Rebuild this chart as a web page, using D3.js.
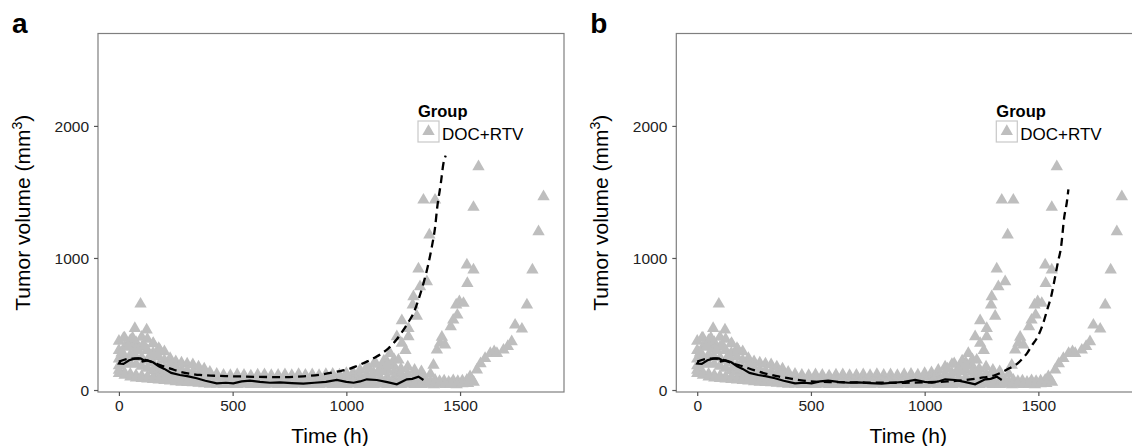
<!DOCTYPE html>
<html>
<head>
<meta charset="UTF-8">
<title>Tumor volume</title>
<script src="https://cdn.jsdelivr.net/npm/d3@7/dist/d3.min.js"></script>
<style>
    body { margin: 0; background: #fff; }
    svg { display: block; font-family: "Liberation Sans", Arial, sans-serif; }
</style>
</head>
<body>
<svg id="chart" width="1132" height="446"></svg>
<script>
    // observed tumour volumes (mm3), same data in both panels
    var bandTimes = [0, 25, 50, 75, 100, 125, 150, 175, 200, 225, 250, 275, 300, 325, 350, 375, 400, 430, 460, 490,
        520, 550, 580, 610, 640, 670, 700, 730, 760, 790, 820, 850, 880, 910, 940, 970, 1000, 1030, 1060, 1090,
        1120, 1150, 1180, 1210, 1240, 1270, 1300, 1330];
    var bandUpper = [370, 395, 375, 360, 400, 385, 350, 315, 290, 240, 215, 205, 198, 192, 175, 160, 135, 120, 112, 110,
        116, 112, 108, 114, 116, 110, 112, 116, 110, 118, 112, 116, 110, 118, 120, 114, 126, 132, 150, 175,
        195, 170, 210, 180, 160, 175, 150, 140];
    var bandUpperMid = [300, 325, 330, 310, 325, 300, 280, 250, 225, 195, 170, 155, 145, 135, 125, 115, 105, 98, 92, 95,
        96, 92, 95, 98, 92, 95, 98, 92, 95, 98, 94, 92, 96, 98, 92, 95, 98, 100, 108, 118,
        128, 140, 150, 135, 125, 118, 112, 108];
    var bandMiddle = [235, 255, 265, 250, 245, 225, 205, 185, 165, 145, 130, 118, 108, 100, 92, 86, 80, 76, 73, 72,
        74, 76, 72, 74, 71, 73, 76, 72, 74, 71, 76, 73, 71, 74, 76, 72, 74, 76, 80, 84,
        88, 92, 96, 92, 86, 82, 84, 80];
    var bandLowerMid = [185, 195, 200, 195, 180, 165, 148, 135, 122, 108, 98, 92, 86, 82, 76, 71, 66, 63, 61, 61,
        63, 61, 63, 61, 59, 61, 63, 61, 59, 61, 63, 61, 59, 61, 63, 61, 59, 61, 63, 61,
        59, 61, 63, 61, 59, 61, 63, 61];
    var bandLower = [150, 130, 120, 110, 105, 100, 95, 90, 86, 82, 78, 75, 72, 70, 66, 60, 56, 52, 50, 50,
        48, 50, 52, 50, 48, 50, 52, 50, 48, 50, 52, 50, 48, 50, 52, 50, 48, 50, 52, 50,
        48, 50, 50, 48, 50, 52, 50, 48];
    var bandBottom = [125, 112, 100, 92, 88, 84, 80, 76, 72, 68, 64, 60, 58, 55, 52, 48, 45, 44, 42, 43,
        42, 44, 42, 43, 42, 44, 42, 43, 42, 44, 42, 43, 42, 44, 42, 43, 42, 44, 42, 43,
        42, 44, 42, 43, 42, 44, 42, 43];

    var earlyTimes = [20, 60, 70, 95, 122, 151, 180, 40, 110, 12, 85, 140];
    var earlyVols = [392, 395, 467, 651, 455, 354, 303, 330, 340, 280, 300, 260];

    var riseATimes = [1100, 1130, 1150, 1165, 1180, 1192, 1210, 1222, 1229, 1244, 1244, 1260, 1273, 1273, 1292, 1295,
        1310, 1317, 1324, 1339, 1354, 1365, 1390];
    var riseAVols = [160, 200, 150, 220, 190, 278, 230, 404, 227, 525, 354, 300, 467, 404, 644, 707,
        560, 917, 783, 1439, 820, 1174, 1439];

    var riseBTimes = [1370, 1383, 1398, 1412, 1420, 1434, 1459, 1470, 1483, 1488, 1497, 1515, 1530, 1532, 1559, 1559, 1581];
    var riseBVols = [120, 189, 303, 354, 400, 341, 480, 530, 644, 568, 669, 657, 947, 808, 909, 1384, 1692];

    var riseCTimes = [1544, 1574, 1590, 1610, 1633, 1650, 1662, 1691, 1710, 1727, 1742, 1772, 1794, 1818, 1845, 1867];
    var riseCVols = [101, 152, 200, 240, 278, 290, 278, 303, 330, 366, 492, 462, 644, 909, 1199, 1465];

    var tailTimes = [1350, 1370, 1390, 1410, 1430, 1450, 1470, 1490, 1510, 1530, 1550,
        1360, 1385, 1410, 1435, 1460, 1485, 1510, 1535, 1560];
    var tailVols = [70, 60, 75, 65, 70, 60, 72, 65, 70, 75, 85,
        45, 40, 48, 42, 45, 40, 48, 50, 60];

    // observed mean (solid)
    var meanTimes = [5, 0, 20, 45, 70, 95, 110, 100, 125, 150, 175, 200, 230, 268, 300, 342, 380, 430, 470, 503,
        540, 576, 620, 664, 708, 760, 811, 860, 910, 958, 1000, 1032, 1060, 1090, 1134, 1180, 1222, 1266, 1290, 1317, 1339];
    var meanVols = [215, 200, 198, 225, 238, 240, 225, 215, 225, 210, 180, 160, 130, 114, 105, 89, 70, 51, 55, 51,
        65, 71, 62, 55, 58, 52, 48, 55, 62, 76, 62, 55, 65, 81, 76, 60, 43, 81, 85, 101, 76];

    // model predictions (dashed)
    var predATimes = [0, 40, 85, 130, 180, 230, 268, 320, 356, 420, 503, 600, 708, 811, 900, 958, 1010, 1046, 1090, 1119,
        1150, 1185, 1220, 1251, 1275, 1295, 1320, 1339, 1360, 1376, 1390, 1400, 1415, 1427, 1437];
    var predAVols = [215, 235, 240, 220, 189, 160, 139, 122, 114, 108, 104, 100, 98, 104, 120, 139, 158, 182, 215, 240,
        270, 316, 380, 455, 520, 581, 700, 808, 950, 1086, 1230, 1389, 1560, 1717, 1775];

    var predBTimes = [0, 40, 80, 120, 160, 200, 250, 300, 350, 400, 450, 500, 600, 700, 800, 900, 1000, 1100, 1200, 1260,
        1305, 1340, 1372, 1409, 1431, 1453, 1468, 1497, 1520, 1541, 1556, 1571, 1585, 1600, 1614, 1625, 1632];
    var predBVols = [215, 235, 240, 225, 200, 180, 150, 125, 105, 90, 75, 65, 60, 58, 55, 55, 58, 65, 80, 95,
        110, 135, 164, 202, 240, 285, 328, 404, 500, 620, 707, 833, 960, 1086, 1313, 1420, 1520];

    var xTicks = [0, 500, 1000, 1500];
    var yTicks = [0, 1000, 2000];
    var groupName = "DOC+RTV";

    var pointColor = "#bebebe";
    var svg = d3.select("#chart");

    // gather all observed points
    var points = [];
    [bandUpper, bandUpperMid, bandMiddle, bandLowerMid, bandLower, bandBottom].forEach(function (vals) {
        vals.forEach(function (v, i) { points.push({t: bandTimes[i], v: v}); });
    });
    [[earlyTimes, earlyVols], [tailTimes, tailVols], [riseATimes, riseAVols],
        [riseBTimes, riseBVols], [riseCTimes, riseCVols]].forEach(function (p) {
        p[0].forEach(function (t, i) { points.push({t: t, v: p[1][i]}); });
    });

    var meanLine = meanTimes.map(function (t, i) { return {t: t, v: meanVols[i]}; });

    function drawPanel(left, label, predT, predV) {
        var width = 466, top = 33.5, bottom = 392;
        var x = d3.scaleLinear().domain([-92, 1957]).range([left, left + width]);
        var y = d3.scaleLinear().domain([-15, 2700]).range([bottom, top]);

        var g = svg.append("g");

        g.append("rect")
            .attr("x", left).attr("y", top)
            .attr("width", width).attr("height", bottom - top)
            .attr("fill", "#fff");

        var tri = d3.symbol().type(d3.symbolTriangle).size(66);
        g.append("g").selectAll("path")
            .data(points)
            .enter().append("path")
            .attr("d", tri)
            .attr("transform", function (d) { return "translate(" + x(d.t) + "," + y(d.v) + ")"; })
            .attr("fill", pointColor);

        var line = d3.line().x(function (d) { return x(d.t); }).y(function (d) { return y(d.v); });

        g.append("path")
            .datum(meanLine)
            .attr("d", line)
            .attr("fill", "none")
            .attr("stroke", "#000")
            .attr("stroke-width", 2.2);

        var pred = predT.map(function (t, i) { return {t: t, v: predV[i]}; });
        g.append("path")
            .datum(pred)
            .attr("d", line.curve(d3.curveMonotoneX))
            .attr("fill", "none")
            .attr("stroke", "#000")
            .attr("stroke-width", 2.3)
            .attr("stroke-dasharray", "8,5");

        g.append("rect")
            .attr("x", left).attr("y", top)
            .attr("width", width).attr("height", bottom - top)
            .attr("fill", "none")
            .attr("stroke", "#7f7f7f")
            .attr("stroke-width", 1.2);

        // axes
        var xAxis = g.append("g")
            .attr("transform", "translate(0," + bottom + ")")
            .call(d3.axisBottom(x).tickValues(xTicks).tickSize(4).tickPadding(4).tickFormat(d3.format("d")));
        var yAxis = g.append("g")
            .attr("transform", "translate(" + left + ",0)")
            .call(d3.axisLeft(y).tickValues(yTicks).tickSize(4).tickPadding(5).tickFormat(d3.format("d")));
        [xAxis, yAxis].forEach(function (a) {
            a.select(".domain").remove();
            a.selectAll(".tick line").attr("stroke", "#555").attr("stroke-width", 1.2);
            a.selectAll(".tick text")
                .attr("fill", "#222")
                .style("font-size", "15.5px")
                .style("font-family", "Liberation Sans, Arial, sans-serif");
        });
        yAxis.selectAll(".tick text").attr("dy", "0.36em");

        // axis titles
        g.append("text")
            .attr("x", left + width / 2 - 1)
            .attr("y", 443)
            .attr("text-anchor", "middle")
            .style("font-size", "21px")
            .text("Time (h)");

        var yt = g.append("text")
            .attr("transform", "translate(" + (left - 68) + "," + ((top + bottom) / 2) + ") rotate(-90)")
            .attr("text-anchor", "middle")
            .style("font-size", "21px");
        yt.append("tspan").text("Tumor volume (mm");
        yt.append("tspan").attr("dy", -8).style("font-size", "14px").text("3");
        yt.append("tspan").attr("dy", 8).text(")");

        // panel letter
        g.append("text")
            .attr("x", left - 86)
            .attr("y", 33)
            .style("font-size", "28px")
            .style("font-weight", "bold")
            .text(label);

        // legend
        var lx = left + 320;
        g.append("text")
            .attr("x", lx)
            .attr("y", 117)
            .style("font-size", "16.5px")
            .style("font-weight", "bold")
            .text("Group");
        g.append("rect")
            .attr("x", lx).attr("y", 121)
            .attr("width", 21).attr("height", 21)
            .attr("fill", "#fff")
            .attr("stroke", "#c8c8c8")
            .attr("stroke-width", 1.2);
        g.append("path")
            .attr("d", tri)
            .attr("transform", "translate(" + (lx + 10.5) + ",131.5)")
            .attr("fill", pointColor);
        g.append("text")
            .attr("x", lx + 24)
            .attr("y", 139.5)
            .style("font-size", "17px")
            .text(groupName);
    }

    drawPanel(98, "a", predATimes, predAVols);
    drawPanel(676.3, "b", predBTimes, predBVols);
</script>
</body>
</html>
